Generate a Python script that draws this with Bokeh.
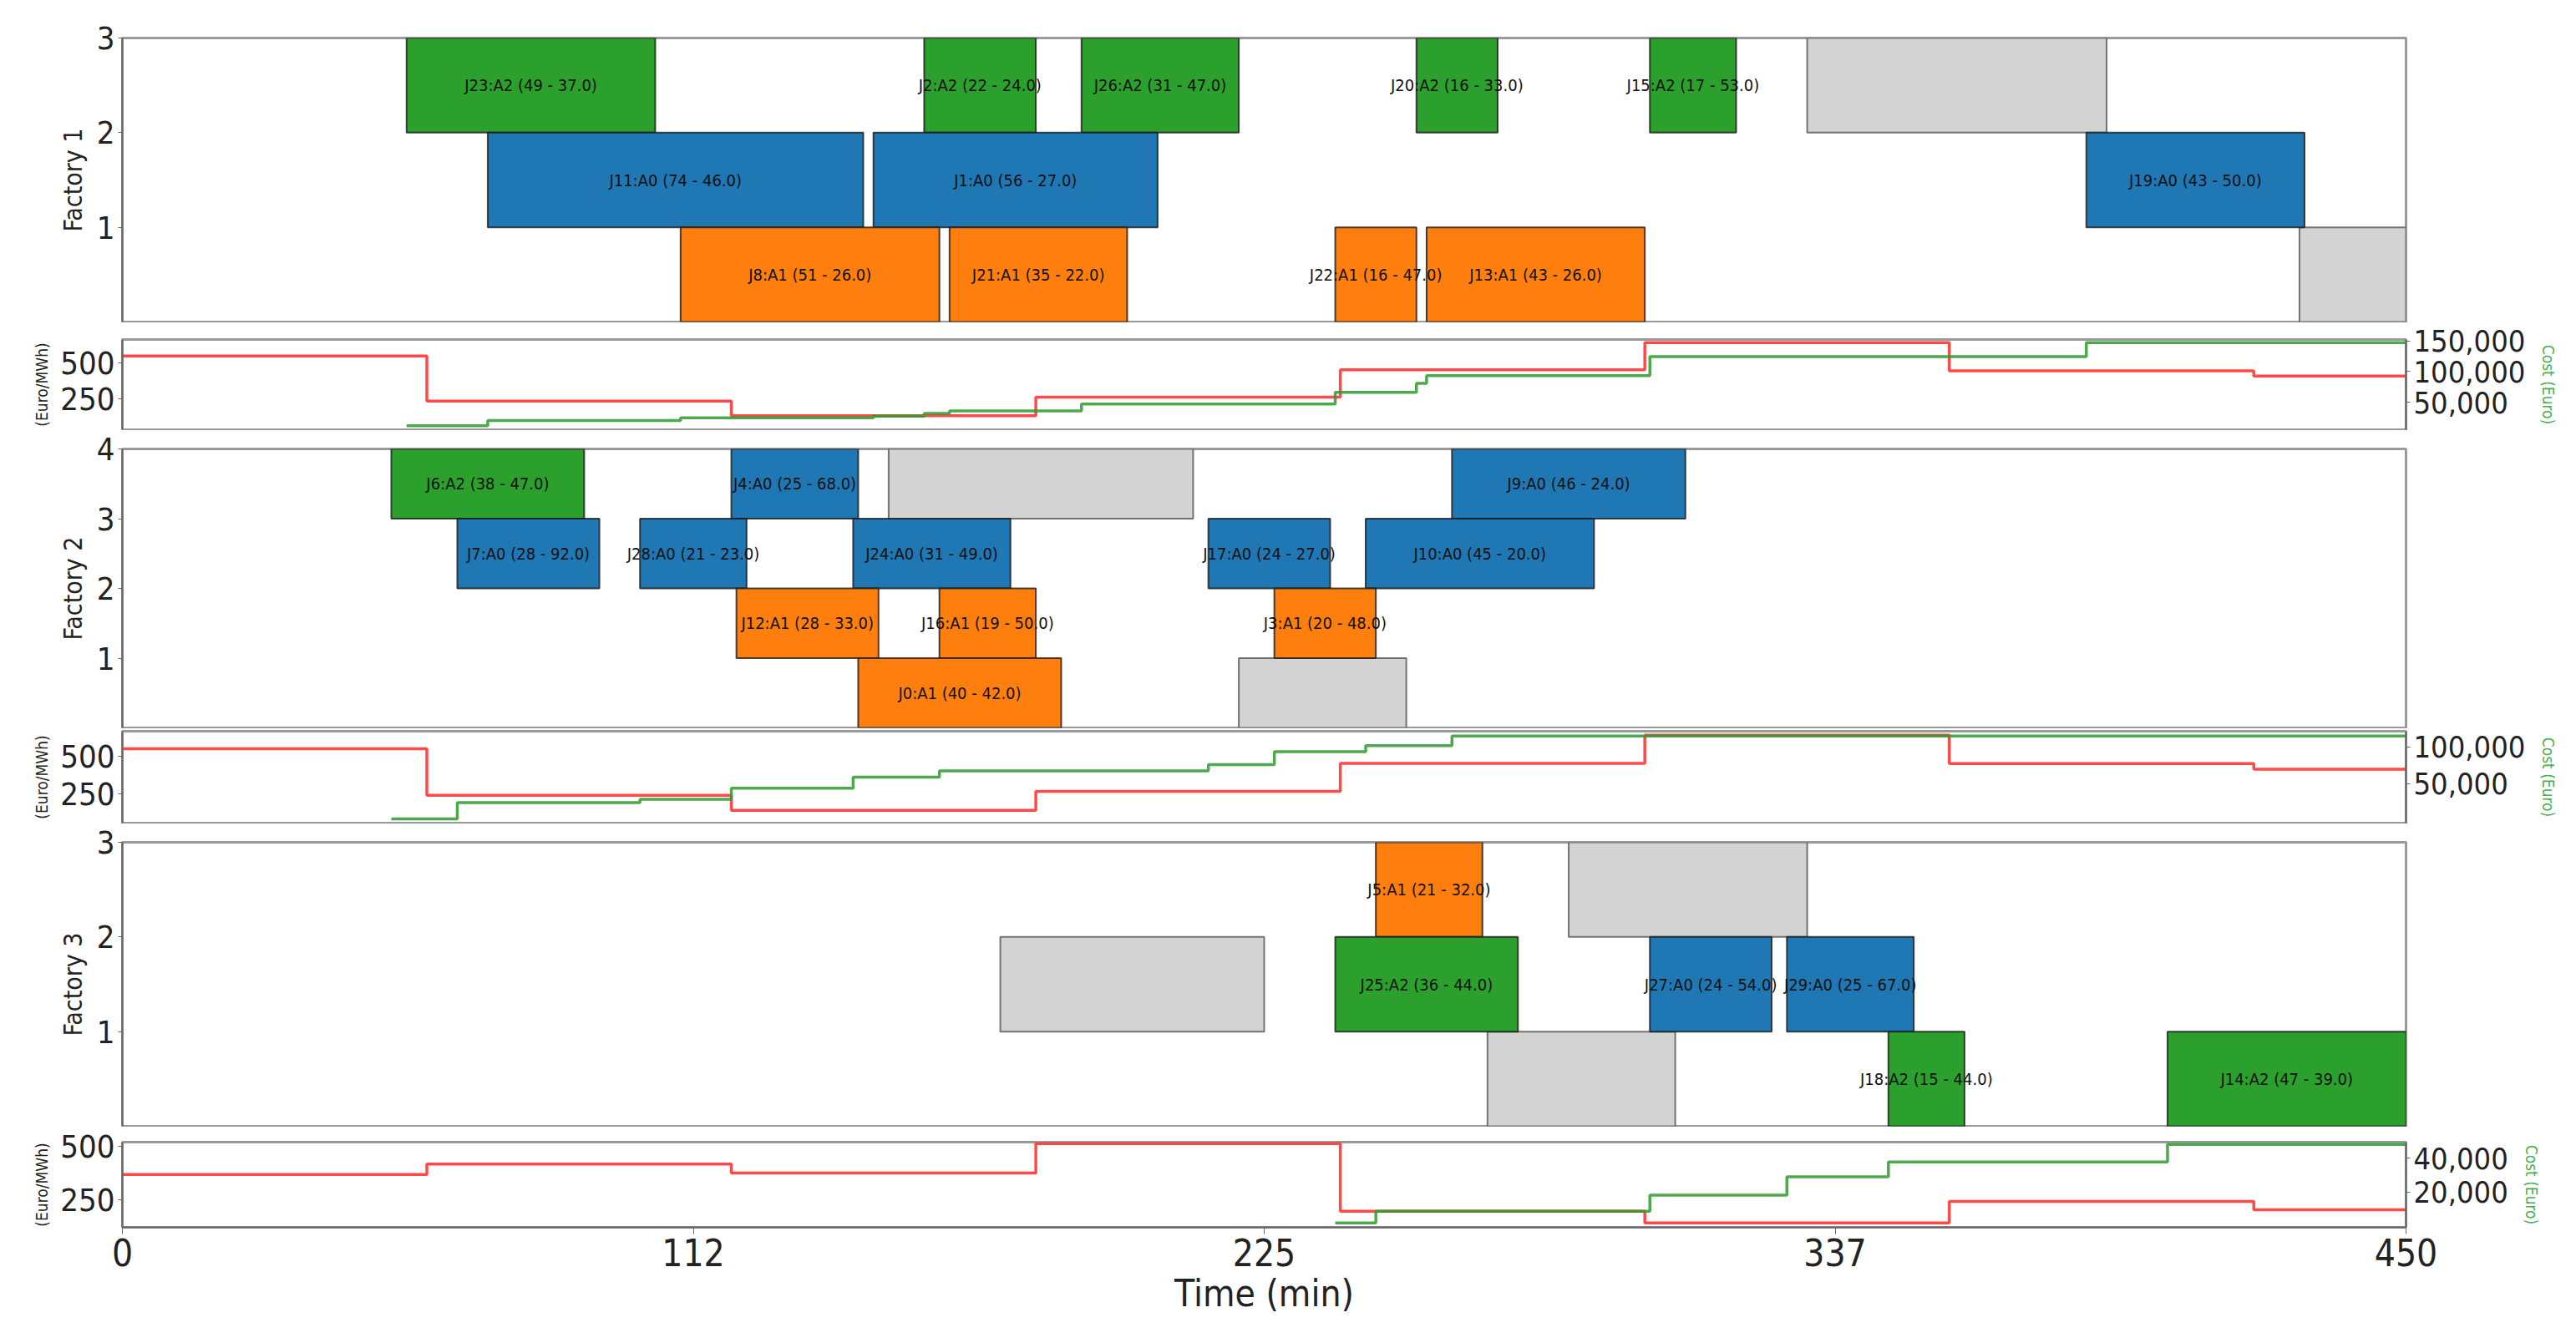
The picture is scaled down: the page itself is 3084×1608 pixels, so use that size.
from bokeh.plotting import figure
from bokeh.models import (ColumnDataSource, Range1d, LinearAxis, FixedTicker,
                          NumeralTickFormatter)
from bokeh.layouts import column
from bokeh.core.properties import value
from bokeh.embed import file_html
from bokeh.resources import INLINE

# ---------------- data ----------------
# Factory 1 jobs
f1_job = ["J23", "J2", "J26", "J20", "J15", "J11", "J1", "J19", "J8", "J21", "J22", "J13"]
f1_act = ["A2", "A2", "A2", "A2", "A2", "A0", "A0", "A0", "A1", "A1", "A1", "A1"]
f1_start = [56, 158, 189, 255, 301, 72, 148, 387, 110, 163, 239, 257]
f1_dur = [49, 22, 31, 16, 17, 74, 56, 43, 51, 35, 16, 43]
f1_val = [37.0, 24.0, 47.0, 33.0, 53.0, 46.0, 27.0, 50.0, 26.0, 22.0, 47.0, 26.0]
f1_row = [2, 2, 2, 2, 2, 1, 1, 1, 0, 0, 0, 0]
f1_off_start = [332, 429]
f1_off_end = [391, 450]
f1_off_row = [2, 0]

# Factory 2 jobs
f2_job = ["J6", "J4", "J9", "J7", "J28", "J24", "J17", "J10", "J12", "J16", "J3", "J0"]
f2_act = ["A2", "A0", "A0", "A0", "A0", "A0", "A0", "A0", "A1", "A1", "A1", "A1"]
f2_start = [53, 120, 262, 66, 102, 144, 214, 245, 121, 161, 227, 145]
f2_dur = [38, 25, 46, 28, 21, 31, 24, 45, 28, 19, 20, 40]
f2_val = [47.0, 68.0, 24.0, 92.0, 23.0, 49.0, 27.0, 20.0, 33.0, 50.0, 48.0, 42.0]
f2_row = [3, 3, 3, 2, 2, 2, 2, 2, 1, 1, 1, 0]
f2_off_start = [151, 220]
f2_off_end = [211, 253]
f2_off_row = [3, 0]

# Factory 3 jobs
f3_job = ["J5", "J25", "J27", "J29", "J18", "J14"]
f3_act = ["A1", "A2", "A0", "A0", "A2", "A2"]
f3_start = [247, 239, 301, 328, 348, 403]
f3_dur = [21, 36, 24, 25, 15, 47]
f3_val = [32.0, 44.0, 54.0, 67.0, 44.0, 39.0]
f3_row = [2, 1, 1, 1, 0, 0]
f3_off_start = [173, 285, 269]
f3_off_end = [225, 332, 306]
f3_off_row = [1, 2, 0]

# Energy price (Euro/MWh), hourly
price_t = [0, 60, 120, 180, 240, 300, 360, 420, 450]
price_f1 = [545, 236, 136, 264, 450, 636, 443, 407, 407]
price_f2 = [548, 240, 140, 266, 452, 638, 450, 412, 412]
price_f3 = [368, 417, 375, 514, 194, 139, 240, 201, 201]

# Cumulative cost (Euro)
cost_t1 = [56, 72, 110, 148, 158, 163, 189, 239, 255, 257, 301, 387, 450]
cost_f1 = [11900, 20400, 24700, 27700, 31900, 36200, 47200, 66400, 80900, 93600, 124300, 147200, 147200]
cost_t2 = [53, 66, 102, 120, 144, 161, 214, 227, 245, 262, 450]
cost_f2 = [1500, 23900, 28300, 43500, 58700, 67400, 76000, 93500, 102000, 115000, 115000]
cost_t3 = [239, 247, 301, 328, 348, 403, 450]
cost_f3 = [1700, 8700, 18200, 29100, 37800, 48200, 48200]

x_ticks = [0, 112.5, 225, 337.5, 450]
x_tick_labels = ["0", "112", "225", "337", "450"]

# ---------------- style ----------------
ACT_COLORS = {"A0": "#1f77b4", "A1": "#ff7f0e", "A2": "#2ca02c"}
OFF_COLOR = "#d3d3d3"
FONT = "DejaVu Sans Condensed"
FW = 2734
LEFT = 146
RIGHT = 188
AX_COL = "#666666"
OUT_COL = "#9a9a9a"

x_range = Range1d(0, 450)


def base_fig(fh, top, bottom, yr):
    p = figure(frame_width=FW, frame_height=fh, x_range=x_range, y_range=yr,
               output_backend="svg", toolbar_location=None,
               min_border_left=LEFT, min_border_right=RIGHT,
               min_border_top=top, min_border_bottom=bottom)
    p.grid.visible = False
    p.outline_line_color = OUT_COL
    p.outline_line_width = 3
    p.background_fill_color = "white"
    p.border_fill_color = "white"
    return p


def style_y(ax, ticks, label, label_size, tick_size, label_color="#222222"):
    ax.ticker = FixedTicker(ticks=ticks)
    ax.axis_label = label
    ax.axis_label_text_font = FONT
    ax.axis_label_text_font_size = label_size
    ax.axis_label_text_font_style = "normal"
    ax.axis_label_text_color = label_color
    ax.major_label_text_font = FONT
    ax.major_label_text_font_size = tick_size
    ax.major_label_text_color = "#222222"
    ax.axis_line_color = AX_COL
    ax.axis_line_width = 2
    ax.major_tick_line_color = AX_COL
    ax.major_tick_in = 0
    ax.major_tick_out = 5
    ax.minor_tick_line_color = None
    ax.axis_label_standoff = 8
    ax.major_label_standoff = 4


def gantt(fh, top, bottom, nrows, jobs, acts, starts, durs, vals, rows,
          off_s, off_e, off_r, label):
    p = base_fig(fh, top, bottom, Range1d(0, nrows))
    p.xaxis.visible = False
    style_y(p.yaxis[0], list(range(1, nrows + 1)), label, "30px", "38px")
    src_off = ColumnDataSource(dict(left=off_s, right=off_e,
                                    bottom=off_r, top=[r + 1 for r in off_r]))
    p.quad(left="left", right="right", bottom="bottom", top="top", source=src_off,
           fill_color=OFF_COLOR, line_color="#555555", line_alpha=0.8, line_width=2)
    ends = [s + d for s, d in zip(starts, durs)]
    src = ColumnDataSource(dict(
        left=starts, right=ends, bottom=rows, top=[r + 1 for r in rows],
        color=[ACT_COLORS[a] for a in acts],
        xc=[s + d / 2 for s, d in zip(starts, durs)],
        yc=[r + 0.5 for r in rows],
        txt=[f"{j}:{a} ({d} - {v:.1f})" for j, a, d, v in zip(jobs, acts, durs, vals)]))
    p.quad(left="left", right="right", bottom="bottom", top="top", source=src,
           fill_color="color", line_color="#1a1a1a", line_alpha=0.8, line_width=2)
    p.text(x="xc", y="yc", text="txt", source=src, text_align="center",
           text_baseline="middle", text_font=value(FONT), text_font_size="20px",
           text_color="#111111")
    return p


def price_panel(fh, top, bottom, pr, prange, ptick, ct, cv, crange, ctick, show_x=False):
    p = base_fig(fh, top, bottom, Range1d(*prange))
    style_y(p.yaxis[0], ptick, "(Euro/MWh)", "19px", "38px")
    p.extra_y_ranges = {"cost": Range1d(*crange)}
    rax = LinearAxis(y_range_name="cost")
    style_y(rax, ctick, "Cost (Euro)", "19px", "36px", label_color="#4caf50")
    rax.formatter = NumeralTickFormatter(format="0,0")
    rax.axis_label_standoff = 14
    p.add_layout(rax, "right")
    p.step(x=price_t, y=pr, mode="after", line_color="#ff2a2a", line_width=3.5,
           line_alpha=0.85)
    p.step(x=ct, y=cv, mode="after", line_color="#2e9a2e", line_width=3.5,
           line_alpha=0.85, y_range_name="cost")
    if show_x:
        ax = p.xaxis[0]
        ax.ticker = FixedTicker(ticks=x_ticks)
        ax.major_label_overrides = {t: l for t, l in zip(x_ticks, x_tick_labels)}
        ax.axis_label = "Time (min)"
        ax.axis_label_text_font = FONT
        ax.axis_label_text_font_size = "44px"
        ax.axis_label_text_font_style = "normal"
        ax.axis_label_text_color = "#222222"
        ax.major_label_text_font = FONT
        ax.major_label_text_font_size = "44px"
        ax.major_label_text_color = "#222222"
        ax.axis_line_color = AX_COL
        ax.axis_line_width = 2
        ax.major_tick_line_color = AX_COL
        ax.major_tick_in = 0
        ax.major_tick_out = 8
        ax.minor_tick_line_color = None
        ax.axis_label_standoff = 4
    else:
        p.xaxis.visible = False
    return p


g1 = gantt(340, 45, 1, 3, f1_job, f1_act, f1_start, f1_dur, f1_val, f1_row,
           f1_off_start, f1_off_end, f1_off_row, "Factory 1")
p1 = price_panel(108, 20, 1, price_f1, (41, 657), [250, 500], cost_t1, cost_f1,
                 (5500, 152300), [50000, 100000, 150000])
g2 = gantt(334, 22, 1, 4, f2_job, f2_act, f2_start, f2_dur, f2_val, f2_row,
           f2_off_start, f2_off_end, f2_off_row, "Factory 2")
p2 = price_panel(110, 3, 1, price_f2, (55, 665), [250, 500], cost_t2, cost_f2,
                 (-4300, 121700), [50000, 100000])
g3 = gantt(340, 22, 1, 3, f3_job, f3_act, f3_start, f3_dur, f3_val, f3_row,
           f3_off_start, f3_off_end, f3_off_row, "Factory 3")
p3 = price_panel(102, 18, 116, price_f3, (118, 521), [250, 500], cost_t3, cost_f3,
                 (-870, 49600), [20000, 40000], show_x=True)

layout = column(g1, p1, g2, p2, g3, p3, spacing=0)
html = file_html(layout, INLINE, title="Factory schedule")
open("out.html", "w").write(html)
